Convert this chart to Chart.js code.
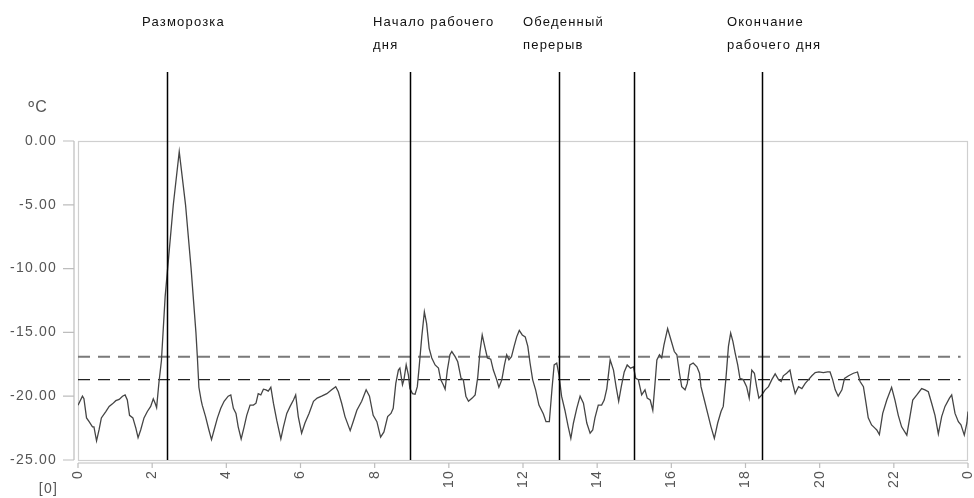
<!DOCTYPE html>
<html>
<head>
<meta charset="utf-8">
<script src="https://cdn.jsdelivr.net/npm/chart.js@4.4.0/dist/chart.umd.min.js"></script>
<style>
  html, body { margin: 0; padding: 0; background: #fff; }
  #wrap { width: 974px; height: 498px; }
</style>
</head>
<body>
<div id="wrap"><canvas id="c" width="974" height="498"></canvas></div>
<script>
// ---- data ----
const hours = [0.00,0.12,0.16,0.23,0.30,0.39,0.43,0.50,0.57,0.63,0.75,0.84,0.93,1.02,1.11,1.20,1.27,1.33,1.39,1.48,1.56,1.62,1.69,1.78,1.87,1.96,2.03,2.08,2.12,2.18,2.25,2.35,2.57,2.73,2.90,3.05,3.18,3.22,3.26,3.32,3.35,3.44,3.53,3.60,3.67,3.76,3.85,3.94,4.05,4.12,4.19,4.26,4.32,4.40,4.48,4.55,4.64,4.73,4.80,4.86,4.93,5.00,5.07,5.13,5.20,5.27,5.36,5.47,5.54,5.63,5.72,5.81,5.87,5.94,6.03,6.12,6.23,6.35,6.45,6.57,6.71,6.84,6.95,7.02,7.11,7.20,7.34,7.42,7.52,7.65,7.77,7.86,7.96,8.06,8.16,8.25,8.35,8.44,8.50,8.57,8.64,8.68,8.75,8.79,8.85,8.91,8.95,9.02,9.09,9.15,9.20,9.27,9.34,9.40,9.47,9.54,9.63,9.72,9.78,9.85,9.90,9.96,10.03,10.08,10.17,10.24,10.33,10.39,10.46,10.53,10.63,10.71,10.78,10.84,10.90,10.98,11.04,11.13,11.20,11.29,11.35,11.43,11.50,11.56,11.62,11.69,11.76,11.83,11.90,11.98,12.06,12.13,12.19,12.26,12.34,12.43,12.55,12.62,12.71,12.78,12.84,12.91,12.97,13.04,13.13,13.22,13.29,13.36,13.45,13.54,13.63,13.72,13.81,13.88,13.94,14.03,14.12,14.19,14.26,14.35,14.44,14.51,14.58,14.65,14.73,14.81,14.90,14.98,15.04,15.11,15.20,15.29,15.35,15.43,15.50,15.56,15.61,15.68,15.74,15.80,15.90,15.99,16.08,16.15,16.22,16.28,16.37,16.43,16.50,16.59,16.69,16.76,16.80,16.89,16.98,17.07,17.16,17.25,17.34,17.40,17.47,17.54,17.60,17.66,17.72,17.79,17.85,17.94,18.03,18.10,18.17,18.24,18.30,18.36,18.44,18.53,18.62,18.71,18.80,18.89,18.96,19.02,19.11,19.20,19.26,19.34,19.43,19.52,19.61,19.70,19.79,19.88,19.98,20.10,20.21,20.28,20.35,20.42,20.50,20.60,20.67,20.78,20.91,21.02,21.09,21.18,21.25,21.31,21.40,21.49,21.54,21.61,21.70,21.81,21.94,22.03,22.12,22.21,22.35,22.44,22.51,22.62,22.75,22.84,22.93,23.02,23.11,23.20,23.29,23.38,23.50,23.56,23.65,23.74,23.81,23.90,23.97,24.00];
const temps = [-20.7,-20.0,-20.2,-21.7,-22.0,-22.4,-22.4,-23.5,-22.6,-21.7,-21.2,-20.8,-20.6,-20.35,-20.25,-20.0,-19.9,-20.3,-21.5,-21.7,-22.5,-23.25,-22.65,-21.7,-21.2,-20.8,-20.2,-20.55,-20.9,-19.0,-17.2,-12.2,-5.0,-0.84,-5.0,-10.0,-15.0,-17.0,-19.3,-20.3,-20.7,-21.6,-22.65,-23.4,-22.65,-21.7,-20.95,-20.4,-20.0,-19.9,-20.95,-21.35,-22.4,-23.35,-22.4,-21.5,-20.7,-20.7,-20.55,-19.8,-19.9,-19.45,-19.5,-19.6,-19.3,-20.55,-21.9,-23.35,-22.4,-21.35,-20.8,-20.3,-19.9,-21.6,-22.9,-22.1,-21.35,-20.4,-20.15,-20.0,-19.8,-19.5,-19.25,-19.65,-20.55,-21.6,-22.7,-22.0,-21.1,-20.4,-19.5,-20.0,-21.5,-22.0,-23.2,-22.8,-21.6,-21.35,-20.95,-19.0,-17.95,-17.8,-19.1,-18.7,-17.55,-18.35,-19.4,-19.8,-19.85,-19.25,-17.7,-15.35,-13.4,-14.3,-16.25,-17.0,-17.55,-17.8,-18.7,-19.1,-19.45,-17.95,-16.75,-16.5,-16.9,-17.3,-18.6,-18.7,-20.0,-20.4,-20.15,-19.9,-18.5,-16.5,-15.2,-16.25,-17.0,-17.1,-17.95,-18.7,-19.3,-18.7,-17.55,-16.75,-17.15,-16.9,-16.1,-15.35,-14.85,-15.2,-15.35,-16.1,-17.4,-18.7,-19.5,-20.7,-21.4,-22.0,-22.0,-19.5,-17.55,-17.4,-18.35,-20.0,-21.1,-22.4,-23.3,-22.1,-20.95,-20.0,-20.55,-22.1,-22.9,-22.65,-21.7,-20.7,-20.7,-20.3,-19.4,-17.15,-17.95,-19.25,-20.4,-19.25,-18.1,-17.55,-17.8,-17.7,-18.6,-18.7,-19.9,-19.5,-20.15,-20.3,-21.1,-19.0,-17.15,-16.75,-17.0,-16.0,-14.7,-15.6,-16.5,-16.75,-18.2,-19.25,-19.5,-19.0,-17.55,-17.4,-17.7,-18.2,-19.25,-20.3,-21.35,-22.4,-23.3,-22.1,-21.2,-20.8,-18.7,-16.1,-15.05,-15.7,-16.6,-17.55,-18.6,-18.7,-19.25,-20.15,-17.95,-18.2,-19.25,-20.15,-19.9,-19.5,-19.25,-18.7,-18.25,-18.7,-18.85,-18.4,-18.2,-17.95,-18.85,-19.8,-19.25,-19.4,-19.0,-18.7,-18.4,-18.15,-18.1,-18.15,-18.1,-18.1,-18.7,-19.5,-20.0,-19.5,-18.6,-18.4,-18.2,-18.1,-18.85,-19.25,-20.55,-21.7,-22.25,-22.5,-22.65,-23.0,-21.35,-20.3,-19.3,-20.3,-21.5,-22.4,-23.05,-21.5,-20.3,-19.9,-19.4,-19.5,-19.65,-20.55,-21.5,-22.95,-21.6,-20.8,-20.15,-19.9,-21.35,-22.0,-22.25,-23.05,-22.1,-21.2];
const upperLimit = [-16.9, -16.9];
const lowerLimit = [-18.7, -18.7];
const limitHours = [0, 23.8];
const xTicks = [0,2,4,6,8,10,12,14,16,18,20,22,24];
const xTickLabels = ['0','2','4','6','8','10','12','14','16','18','20','22','0'];
const yTicks = [0,-5,-10,-15,-20,-25];
const eventHours = [2.4, 8.95, 12.98, 15.0, 18.45];
const eventLabels = [['Разморозка'], ['Начало рабочего','дня'], ['Обеденный','перерыв'], null, ['Окончание','рабочего дня']];
const unitLabel = 'ºC';
const xAxisTitle = '[0]';

// ---- layout / style (not data) ----
const eventLabelLeft = [142, 373, 523, null, 727]; // px, left edge of texts
const SPACING = '1.2px';
const FONT = '"Liberation Sans", Arial, sans-serif';

const toXY = (xs, ys) => xs.map((x, i) => ({x, y: ys[i]}));

const decor = {
  id: 'decor',
  beforeUpdate(chart) { chart.ctx.letterSpacing = SPACING; },
  beforeDraw(chart) {
    const ctx = chart.ctx;
    ctx.letterSpacing = SPACING;
    const a = chart.chartArea;
    const xs = chart.scales.x, ys = chart.scales.y;
    ctx.save();
    ctx.strokeStyle = '#cfcfcf';
    ctx.lineWidth = 1.2;
    ctx.strokeRect(a.left + 0.5, a.top + 0.5, a.right - a.left - 1, a.bottom - a.top);
    ctx.strokeStyle = '#bdbdbd';
    ctx.lineWidth = 1.2;
    ctx.beginPath();
    ctx.moveTo(a.left - 4, a.top); ctx.lineTo(a.left - 4, a.bottom);
    yTicks.forEach(v => { const p = ys.getPixelForValue(v); ctx.moveTo(a.left - 15, p); ctx.lineTo(a.left - 4, p); });
    ctx.moveTo(a.left, a.bottom + 3); ctx.lineTo(a.right, a.bottom + 3);
    xTicks.forEach(v => { const p = xs.getPixelForValue(v); ctx.moveTo(p, a.bottom + 3); ctx.lineTo(p, a.bottom + 8); });
    ctx.stroke();
    ctx.fillStyle = '#555';
    ctx.font = '16px ' + FONT;
    ctx.textAlign = 'right';
    ctx.textBaseline = 'middle';
    ctx.fillText(unitLabel, 48, 108);
    ctx.font = '14px ' + FONT;
    ctx.fillText(xAxisTitle, 58, 489);
    ctx.restore();
  },
  afterDatasetsDraw(chart) {
    const ctx = chart.ctx;
    const a = chart.chartArea;
    const xs = chart.scales.x;
    ctx.save();
    ctx.strokeStyle = '#000';
    ctx.lineWidth = 1.5;
    eventHours.forEach(h => {
      const p = Math.round(xs.getPixelForValue(h)) + 0.5;
      ctx.beginPath(); ctx.moveTo(p, 72); ctx.lineTo(p, a.bottom); ctx.stroke();
    });
    ctx.fillStyle = '#111';
    ctx.font = '13px ' + FONT;
    ctx.textAlign = 'left';
    ctx.textBaseline = 'middle';
    eventLabels.forEach((lines, i) => {
      if (!lines) return;
      lines.forEach((t, j) => ctx.fillText(t, eventLabelLeft[i], 22 + j * 23));
    });
    ctx.restore();
  }
};

new Chart(document.getElementById('c'), {
  type: 'line',
  data: {
    datasets: [
      { data: toXY(hours, temps), borderColor: '#454545', borderWidth: 1.3, pointRadius: 0, tension: 0, order: 1 },
      { data: toXY(limitHours, upperLimit), borderColor: '#7a7a7a', borderWidth: 2, borderDash: [12, 8], pointRadius: 0, order: 2 },
      { data: toXY(limitHours, lowerLimit), borderColor: '#222', borderWidth: 1.4, borderDash: [12, 8], pointRadius: 0, order: 2 }
    ]
  },
  options: {
    responsive: false,
    animation: false,
    devicePixelRatio: 1,
    layout: { padding: { top: 141, right: 6, left: 0, bottom: 0 } },
    plugins: { legend: { display: false }, tooltip: { enabled: false } },
    scales: {
      x: {
        type: 'linear', min: 0, max: 24,
        afterBuildTicks: s => { s.ticks = xTicks.map(v => ({value: v})); },
        afterFit: s => { s.height = 38; s.paddingLeft = 0; s.paddingRight = 0; },
        ticks: {
          minRotation: 90, maxRotation: 90, autoSkip: false, padding: 2,
          color: '#555', font: { family: FONT, size: 14 },
          callback: v => xTickLabels[xTicks.indexOf(v)]
        },
        grid: { display: true, drawOnChartArea: false, drawTicks: true, tickLength: 8, color: 'rgba(0,0,0,0)' },
        border: { display: false }
      },
      y: {
        min: -25, max: 0,
        afterBuildTicks: s => { s.ticks = yTicks.map(v => ({value: v})); },
        afterFit: s => { s.width = 78; s.paddingTop = 0; s.paddingBottom = 0; },
        ticks: {
          padding: 6, color: '#555', font: { family: FONT, size: 14 },
          callback: v => Number(v).toFixed(2)
        },
        grid: { display: true, drawOnChartArea: false, drawTicks: true, tickLength: 15, color: 'rgba(0,0,0,0)' },
        border: { display: false }
      }
    }
  },
  plugins: [decor]
});
</script>
</body>
</html>
